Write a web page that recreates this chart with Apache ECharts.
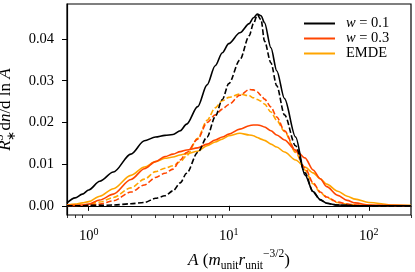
<!DOCTYPE html>
<html>
<head>
<meta charset="utf-8">
<script src="https://cdn.jsdelivr.net/npm/echarts@6/dist/echarts.min.js"></script>
<style>html,body{margin:0;padding:0;background:#fff;}#c{width:415px;height:272px;}</style>
</head>
<body>
<div id="c"></div>
<script>
// A values (x axis, log scale)
const A = [0.7, 0.8, 0.9, 1, 1.2, 1.5, 2, 2.5, 3, 3.5, 4, 4.5, 5, 6, 7, 8, 9, 10, 12, 14, 15, 16, 17, 18, 20, 22, 25, 30, 35, 40, 45, 50, 60, 70, 80, 100, 150, 200];
// w = 0.1 solid
const w01Solid = [0.0007, 0.0019, 0.0028, 0.0038, 0.0059, 0.0081, 0.0124, 0.0156, 0.0165, 0.0169, 0.0171, 0.018, 0.0196, 0.0238, 0.029, 0.0336, 0.0367, 0.0389, 0.0415, 0.0437, 0.0451, 0.046, 0.0456, 0.0439, 0.0379, 0.0324, 0.0257, 0.0165, 0.0074, 0.0034, 0.0015, 0.0006, 0.0002, 0.0001, 0, 0, 0, 0];
// w = 0.1 dashed
const w01Dashed = [0, 0, 0, 0.0001, 0.0001, 0.0002, 0.0005, 0.0008, 0.0018, 0.0024, 0.0036, 0.0055, 0.0078, 0.0128, 0.0165, 0.0214, 0.0255, 0.0293, 0.035, 0.0408, 0.0437, 0.0458, 0.0446, 0.0395, 0.0343, 0.0288, 0.0218, 0.0144, 0.0079, 0.0033, 0.0014, 0.0006, 0.0002, 0.0001, 0, 0, 0, 0];
// w = 0.3 solid
const w03Solid = [0.0001, 0.0001, 0.0002, 0.0004, 0.0014, 0.0028, 0.0063, 0.0089, 0.0106, 0.0118, 0.0124, 0.013, 0.0134, 0.0139, 0.0148, 0.0158, 0.0165, 0.0172, 0.0184, 0.0192, 0.0194, 0.0194, 0.0192, 0.0189, 0.018, 0.017, 0.0158, 0.0134, 0.0115, 0.0086, 0.0065, 0.0046, 0.0025, 0.0013, 0.0007, 0.0002, 0.0001, 0];
// w = 0.3 dashed
const w03Dashed = [0, 0, 0.0001, 0.0001, 0.0004, 0.0012, 0.0033, 0.005, 0.0068, 0.0078, 0.0088, 0.011, 0.0128, 0.016, 0.02, 0.0218, 0.0232, 0.0243, 0.0265, 0.0279, 0.0278, 0.0273, 0.0265, 0.0256, 0.0237, 0.0213, 0.018, 0.0132, 0.0091, 0.0055, 0.0033, 0.0021, 0.0009, 0.0004, 0.0002, 0.0001, 0, 0];
// EMDE solid
const emdeSolid = [0.0002, 0.0004, 0.0007, 0.001, 0.0023, 0.0041, 0.0073, 0.0093, 0.0106, 0.0114, 0.0117, 0.0122, 0.0125, 0.0131, 0.0144, 0.0153, 0.016, 0.0168, 0.0174, 0.017, 0.0168, 0.0164, 0.016, 0.0157, 0.0148, 0.0141, 0.0129, 0.011, 0.0093, 0.0079, 0.0065, 0.0052, 0.0035, 0.0023, 0.0016, 0.0008, 0.0002, 0.0001];
// EMDE dashed
const emdeDashed = [0, 0.0001, 0.0002, 0.0003, 0.0009, 0.002, 0.0043, 0.0064, 0.0082, 0.009, 0.0096, 0.0106, 0.012, 0.0162, 0.0205, 0.0235, 0.0252, 0.026, 0.0268, 0.0264, 0.0259, 0.0255, 0.0251, 0.0244, 0.0225, 0.0205, 0.0178, 0.0128, 0.0086, 0.0053, 0.0032, 0.002, 0.0008, 0.0004, 0.0002, 0.0001, 0, 0];

const xMajorTicks = [1, 10, 100];
const xMinorTicks = [0.7, 0.8, 0.9, 2, 3, 4, 5, 6, 7, 8, 9, 20, 30, 40, 50, 60, 70, 80, 90, 200];
const yTicks = [0, 0.01, 0.02, 0.03, 0.04];
const legendNames = ['w = 0.1', 'w = 0.3', 'EMDE'];

const FONT = 'Liberation Serif';
const C_BLACK = '#000000', C_RED = '#ff4500', C_ORANGE = '#ffa500';
const DASH = [5.5, 2.4];

function pairs(ys) { return A.map((a, i) => [a, ys[i]]); }
function mk(name, ys, color, dashed, z) {
  return {
    type: 'line', name: name, data: pairs(ys), symbol: 'none', showSymbol: false,
    smooth: 0.3, smoothMonotone: 'x', z: z,
    lineStyle: { color: color, width: 1.6, type: dashed ? DASH : 'solid' },
    itemStyle: { color: color }, animation: false
  };
}

const chart = echarts.init(document.getElementById('c'), null, { renderer: 'canvas' });
chart.setOption({
  animation: false,
  backgroundColor: '#fff',
  grid: { left: 67, right: 4, top: 4, bottom: 57, show: true, borderColor: '#000', borderWidth: 1.2, containLabel: false, outerBoundsMode: 'none' },
  legend: {
    orient: 'vertical', left: 304, top: 16, padding: 0, itemGap: 0,
    itemWidth: 31, itemHeight: 2, icon: 'rect',
    itemStyle: { borderWidth: 0 },
    data: legendNames,
    formatter: function (n) {
      if (n === 'w = 0.1') return '{i|w} = 0.1';
      if (n === 'w = 0.3') return '{i|w} = 0.3';
      return n;
    },
    textStyle: { fontFamily: FONT, fontSize: 14.5, color: '#000', lineHeight: 13, padding: [0, 0, 0, 6],
      rich: { i: { fontFamily: FONT, fontStyle: 'italic', fontSize: 14.5, lineHeight: 13 } } }
  },
  xAxis: [{
    type: 'log', logBase: 10, min: 0.7, max: 200, gridIndex: 0,
    name: '{i|A} ({i|m}{s|unit}{i|r}{s|unit}{p|−3/2})',
    nameLocation: 'middle', nameGap: 29,
    nameTextStyle: { fontFamily: FONT, fontSize: 17, color: '#000', lineHeight: 24,
      rich: {
        i: { fontFamily: FONT, fontStyle: 'italic', fontSize: 17, lineHeight: 24 },
        s: { fontFamily: FONT, fontSize: 11.5, lineHeight: 11, verticalAlign: 'bottom' },
        p: { fontFamily: FONT, fontSize: 11.5, lineHeight: 11, verticalAlign: 'top' }
      } },
    axisLine: { show: true, lineStyle: { color: '#000', width: 1.2 } },
    axisTick: { show: true, inside: false, length: 5, lineStyle: { color: '#000', width: 1 }, customValues: xMajorTicks },
    axisLabel: {
      show: true, margin: 12, customValues: xMajorTicks, color: '#000',
      formatter: function (v) { return '{b|10}{e|' + Math.round(Math.log10(v)) + '}'; },
      rich: {
        b: { fontFamily: FONT, fontSize: 14.5, lineHeight: 18, color: '#000' },
        e: { fontFamily: FONT, fontSize: 10, lineHeight: 10, verticalAlign: 'top', color: '#000' }
      }
    },
    splitLine: { show: false }, minorTick: { show: false }
  }, {
    type: 'log', logBase: 10, min: 0.7, max: 200, gridIndex: 0, position: 'bottom',
    axisLine: { show: false },
    axisTick: { show: true, inside: false, length: 3, lineStyle: { color: '#000', width: 0.8 }, customValues: xMinorTicks },
    axisLabel: { show: false },
    splitLine: { show: false }
  }],
  yAxis: {
    type: 'value', min: -0.0022, max: 0.0484,
    name: '{i|R}{p|3}{s|∗}{t|d}{i|n}{t|/d ln }{i|A}',
    nameLocation: 'middle', nameGap: 44, nameRotate: 90,
    nameTextStyle: { fontFamily: FONT, fontSize: 17, color: '#000', lineHeight: 24,
      rich: {
        i: { fontFamily: FONT, fontStyle: 'italic', fontSize: 17, lineHeight: 24 },
        t: { fontFamily: FONT, fontSize: 17, lineHeight: 24 },
        s: { fontFamily: FONT, fontSize: 11.5, lineHeight: 11, verticalAlign: 'bottom', padding: [0, 0, 0, -6] },
        p: { fontFamily: FONT, fontSize: 11.5, lineHeight: 11, verticalAlign: 'top' }
      } },
    axisLine: { show: true, lineStyle: { color: '#000', width: 1.2 } },
    axisTick: { show: true, inside: false, length: 5, lineStyle: { color: '#000', width: 1 }, customValues: yTicks },
    axisLabel: { show: true, margin: 13, customValues: yTicks, fontFamily: FONT, fontSize: 14.5, color: '#000',
      formatter: function (v) { return v.toFixed(2); } },
    splitLine: { show: false }
  },
  series: [
    mk('w = 0.1', w01Solid, C_BLACK, false, 6),
    mk('w = 0.3', w03Solid, C_RED, false, 5),
    mk('EMDE', emdeSolid, C_ORANGE, false, 4),
    mk('w = 0.1', w01Dashed, C_BLACK, true, 6),
    mk('w = 0.3', w03Dashed, C_RED, true, 5),
    mk('EMDE', emdeDashed, C_ORANGE, true, 4)
  ]
});
</script>
</body>
</html>
